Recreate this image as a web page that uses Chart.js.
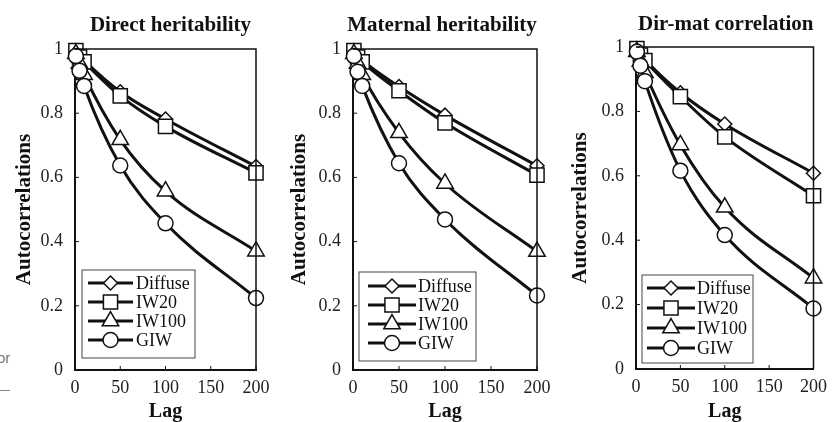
<!DOCTYPE html>
<html>
<head>
<meta charset="utf-8">
<script src="https://cdn.jsdelivr.net/npm/chart.js@4.4.1/dist/chart.umd.min.js"></script>
<style>
  body { margin: 0; background: #fff; }
  #wrap { position: relative; width: 834px; height: 422px; overflow: hidden; }
  .panel { position: absolute; top: 0; height: 422px; }
  .stray { position: absolute; font-family: "Liberation Sans", sans-serif; color: #777; font-size: 15px; }
  .strayline { position: absolute; height: 1px; background: #888; }
</style>
</head>
<body>
<div id="wrap">
  <div class="stray" style="left:-3px; top:349px;">or</div>
  <div class="strayline" style="left:0; top:390px; width:10px;"></div>
  <div class="panel" style="left:0; width:285px;"><canvas id="c1"></canvas></div>
  <div class="panel" style="left:285px; width:275px;"><canvas id="c2"></canvas></div>
  <div class="panel" style="left:560px; width:274px;"><canvas id="c3"></canvas></div>
</div>

<script>
// data
const lags = [1, 5, 10, 50, 100, 200];
const seriesNames = ["Diffuse", "IW20", "IW100", "GIW"];
const xTicks = [0, 50, 100, 150, 200];
const yTicks = [0, 0.2, 0.4, 0.6, 0.8, 1];
const panelTitles = ["Direct heritability", "Maternal heritability", "Dir-mat correlation"];

// Direct heritability
const directDiffuse = [0.995, 0.98, 0.965, 0.867, 0.782, 0.634];
const directIW20    = [0.995, 0.975, 0.96, 0.854, 0.759, 0.614];
const directIW100   = [0.985, 0.955, 0.92, 0.717, 0.557, 0.370];
const directGIW     = [0.978, 0.932, 0.885, 0.637, 0.457, 0.224];

// Maternal heritability
const maternalDiffuse = [0.995, 0.98, 0.965, 0.883, 0.794, 0.636];
const maternalIW20    = [0.995, 0.975, 0.96, 0.870, 0.770, 0.607];
const maternalIW100   = [0.985, 0.955, 0.92, 0.739, 0.581, 0.369];
const maternalGIW     = [0.978, 0.929, 0.885, 0.644, 0.469, 0.232];

// Dir-mat correlation
const dirmatDiffuse = [0.995, 0.98, 0.962, 0.858, 0.761, 0.608];
const dirmatIW20    = [0.995, 0.975, 0.958, 0.846, 0.721, 0.538];
const dirmatIW100   = [0.985, 0.955, 0.92, 0.696, 0.502, 0.282];
const dirmatGIW     = [0.985, 0.942, 0.894, 0.616, 0.416, 0.188];

// marker look per series
const markers = [
  { style: "rectRot", radius: 7 },
  { style: "rect", radius: 10 },
  { style: "triangle", radius: 9.5 },
  { style: "circle", radius: 7.5 }
];

const serif = "'Liberation Serif', 'Times New Roman', serif";

// frame, inward ticks, title and legend
const decorPlugin = {
  id: "decor",
  afterDraw(chart, args, opts) {
    const ctx = chart.ctx;
    const a = chart.chartArea;
    const xs = chart.scales.x, ys = chart.scales.y;
    ctx.save();
    ctx.strokeStyle = "#111";
    ctx.lineWidth = 1.5;
    ctx.beginPath();
    ctx.moveTo(a.left, a.top);
    ctx.lineTo(a.right, a.top);
    ctx.lineTo(a.right, a.bottom);
    ctx.stroke();

    ctx.lineWidth = 1;
    ctx.beginPath();
    xs.ticks.forEach(t => {
      const px = xs.getPixelForValue(t.value);
      ctx.moveTo(px, a.bottom);
      ctx.lineTo(px, a.bottom - 4);
    });
    ys.ticks.forEach(t => {
      const py = ys.getPixelForValue(t.value);
      ctx.moveTo(a.left, py);
      ctx.lineTo(a.left + 4, py);
    });
    ctx.stroke();

    // title
    ctx.fillStyle = "#111";
    ctx.font = "bold 21px " + serif;
    ctx.textAlign = "center";
    ctx.textBaseline = "alphabetic";
    ctx.fillText(opts.title, (a.left + a.right) / 2 + opts.titleDx, opts.titleY);

    // legend
    const lg = opts.legend;
    ctx.strokeStyle = "#444";
    ctx.lineWidth = 1;
    ctx.strokeRect(a.left + lg.x0, a.bottom - lg.top, lg.w, lg.top - lg.bottom);
    ctx.font = "18px " + serif;
    ctx.textAlign = "left";
    ctx.textBaseline = "middle";
    seriesNames.forEach((name, i) => {
      const y = a.bottom - lg.row0 + i * lg.gap;
      ctx.strokeStyle = "#111";
      ctx.lineWidth = 3;
      ctx.beginPath();
      ctx.moveTo(a.left + lg.line0, y);
      ctx.lineTo(a.left + lg.line1, y);
      ctx.stroke();
      ctx.fillStyle = "#fff";
      ctx.lineWidth = 1.5;
      Chart.helpers.drawPoint(ctx, {
        pointStyle: markers[i].style,
        radius: markers[i].radius,
        borderWidth: 1.5,
        rotation: 0
      }, a.left + (lg.line0 + lg.line1) / 2, y);
      ctx.fillStyle = "#111";
      ctx.fillText(name, a.left + lg.text, y + 1);
    });
    ctx.restore();
  }
};

function makePanel(id, idx, series, geo) {
  const datasets = series.map((vals, i) => ({
    label: seriesNames[i],
    data: lags.map((l, j) => ({ x: l, y: vals[j] })),
    borderColor: "#111",
    borderWidth: 3,
    backgroundColor: "#fff",
    pointStyle: markers[i].style,
    pointRadius: markers[i].radius,
    pointBorderWidth: 1.5,
    pointBorderColor: "#111",
    pointBackgroundColor: "#fff",
    cubicInterpolationMode: "monotone",
    clip: false,
    order: 4 - i
  }));

  new Chart(document.getElementById(id), {
    type: "line",
    data: { datasets },
    options: {
      responsive: true,
      maintainAspectRatio: false,
      animation: false,
      events: [],
      layout: { padding: { left: geo.padLeft, right: geo.padRight, top: geo.top, bottom: 0 } },
      plugins: {
        legend: { display: false },
        tooltip: { enabled: false },
        decor: { title: panelTitles[idx], titleDx: geo.titleDx, titleY: geo.titleY, legend: geo.legend }
      },
      scales: {
        x: {
          type: "linear",
          min: xTicks[0],
          max: xTicks[xTicks.length - 1],
          afterBuildTicks: s => { s.ticks = xTicks.map(v => ({ value: v })); },
          grid: { display: false, drawTicks: false },
          border: { display: true, color: "#111", width: 2 },
          ticks: { color: "#222", font: { family: serif, size: 18 }, padding: 7, maxRotation: 0 },
          title: { display: true, text: "Lag", color: "#111", padding: 0,
                   font: { family: serif, size: 20, weight: "bold", lineHeight: 1 } },
          afterFit: s => { s.height = geo.xHeight; }
        },
        y: {
          min: yTicks[0],
          max: yTicks[yTicks.length - 1],
          afterBuildTicks: s => { s.ticks = yTicks.map(v => ({ value: v })); },
          grid: { display: false, drawTicks: false },
          border: { display: true, color: "#111", width: 2 },
          ticks: { color: "#222", font: { family: serif, size: 18 }, padding: 12,
                   callback: v => String(Math.round(v * 10) / 10) },
          title: { display: true, text: "Autocorrelations", color: "#111", padding: 0,
                   font: { family: serif, size: 21, weight: "bold" } },
          afterFit: s => { s.width = geo.yWidth; }
        }
      }
    },
    plugins: [decorPlugin]
  });
}

makePanel("c1", 0, [directDiffuse, directIW20, directIW100, directGIW], {
  padLeft: 12, yWidth: 63, padRight: 29, top: 49, xHeight: 52, titleDx: 5, titleY: 31,
  legend: { x0: 7, w: 113, top: 100, bottom: 12, row0: 87, gap: 19, line0: 13, line1: 58, text: 61 }
});
makePanel("c2", 1, [maternalDiffuse, maternalIW20, maternalIW100, maternalGIW], {
  padLeft: 2, yWidth: 66, padRight: 23, top: 49, xHeight: 52, titleDx: -3, titleY: 31,
  legend: { x0: 6, w: 117, top: 98, bottom: 9, row0: 84, gap: 19, line0: 15, line1: 63, text: 65 }
});
makePanel("c3", 2, [dirmatDiffuse, dirmatIW20, dirmatIW100, dirmatGIW], {
  padLeft: 8, yWidth: 68, padRight: 17, top: 47, xHeight: 53, titleDx: 1, titleY: 30,
  legend: { x0: 6, w: 111, top: 94, bottom: 6, row0: 81, gap: 20, line0: 11, line1: 59, text: 61 }
});
</script>
</body>
</html>
